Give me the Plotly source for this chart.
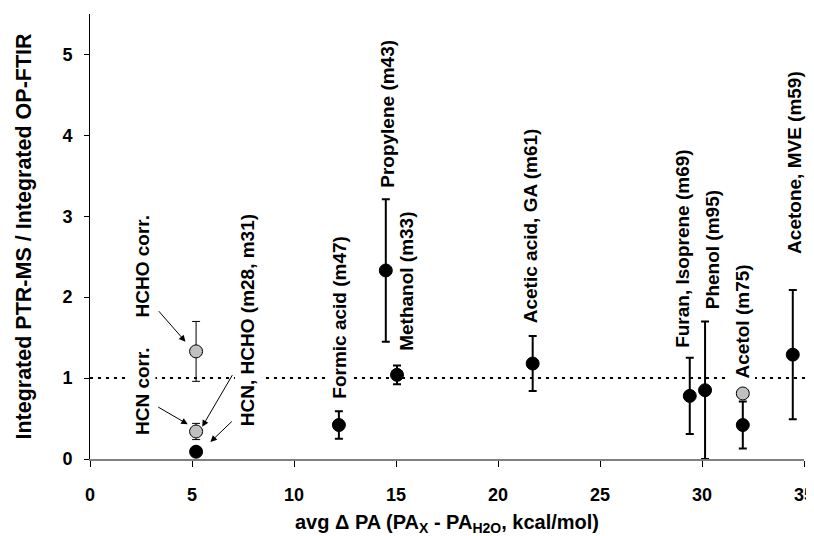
import plotly.graph_objects as go

# ---- data ----
black_x = [5.2, 12.2, 14.5, 15.05, 21.7, 29.4, 30.15, 32.0, 34.45]
black_y = [0.09, 0.42, 2.33, 1.04, 1.18, 0.78, 0.85, 0.42, 1.29]
black_err = [0.0, 0.17, 0.88, 0.115, 0.34, 0.47, 0.85, 0.29, 0.80]

grey_x = [5.2, 5.2, 32.0]
grey_y = [0.34, 1.33, 0.81]
grey_err = [0.10, 0.37, 0.0]

labels = ["HCHO corr.", "HCN corr.", "HCN, HCHO (m28, m31)", "Formic acid (m47)",
          "Propylene (m43)", "Methanol (m33)", "Acetic acid, GA (m61)",
          "Furan, Isoprene (m69)", "Phenol (m95)", "Acetol (m75)", "Acetone, MVE (m59)"]
label_x = [2.55, 2.55, 7.76, 12.22, 14.57, 15.54, 21.63, 29.03, 30.49, 31.96, 34.56]
label_y = [2.38, 0.84, 1.72, 1.75, 4.27, 2.19, 2.88, 2.60, 2.58, 1.70, 3.66]

# arrows: tip (data) and tail offset (px)
arrow_x = [4.68, 4.79, 5.50, 5.90]
arrow_y = [1.45, 0.43, 0.40, 0.21]
arrow_ax = [-28, -31, 31, 23]
arrow_ay = [-32, -18, -53, -22]

x_ticks = [0, 5, 10, 15, 20, 25, 30, 35]
y_ticks = [0, 1, 2, 3, 4, 5]

FONT = "Liberation Sans, Arial, sans-serif"

fig = go.Figure()

fig.add_trace(go.Scatter(
    x=black_x, y=black_y, mode="markers",
    marker=dict(size=13, color="black", line=dict(color="black", width=1)),
    error_y=dict(type="data", array=black_err, visible=True, color="black",
                 thickness=2, width=4),
    showlegend=False, cliponaxis=False))

fig.add_trace(go.Scatter(
    x=grey_x, y=grey_y, mode="markers",
    marker=dict(size=13, color="#c0c0c0", line=dict(color="black", width=1)),
    error_y=dict(type="data", array=grey_err, visible=True, color="black",
                 thickness=1, width=4),
    showlegend=False, cliponaxis=False))

# dotted reference line at y = 1
fig.add_shape(type="line", xref="paper", yref="y", x0=0, x1=1.011, y0=1, y1=1,
              line=dict(color="black", width=2, dash="3px,5px"), layer="below")

for t, lx, ly in zip(labels, label_x, label_y):
    fig.add_annotation(x=lx, y=ly, text=t, textangle=-90, showarrow=False,
                       font=dict(family=FONT, size=19, color="black", weight="bold"),
                       bgcolor="white", borderpad=2)

for tx, ty, ax, ay in zip(arrow_x, arrow_y, arrow_ax, arrow_ay):
    fig.add_annotation(x=tx, y=ty, ax=ax, ay=ay, text="", showarrow=True,
                       arrowhead=2, arrowsize=1.3, arrowwidth=1, arrowcolor="black")

# page body has an 8px margin, so the figure is 8px smaller and margins shifted
fig.update_layout(
    width=806, height=528,
    margin=dict(l=81.5, r=10, t=5.7, b=77, autoexpand=False),
    paper_bgcolor="white", plot_bgcolor="white",
    font=dict(family=FONT, color="black"),
    xaxis=dict(range=[0, 35], tickvals=x_ticks, ticks="outside", ticklen=6,
               tickcolor="black", showline=True, linecolor="#808080", linewidth=2,
               showgrid=False, zeroline=False, automargin=False,
               ticklabelstandoff=12, ticklabeloverflow="allow",
               tickfont=dict(family=FONT, size=18, weight="bold"),
               title=dict(text="avg Δ PA (PA<sub>X</sub> - PA<sub>H2O</sub>, kcal/mol)",
                          font=dict(family=FONT, size=20, weight="bold"), standoff=12)),
    yaxis=dict(range=[0, 5.5], tickvals=y_ticks, ticks="outside", ticklen=5,
               tickcolor="black", showline=True, linecolor="black", linewidth=1,
               showgrid=False, zeroline=False, automargin=False,
               ticklabelstandoff=8, ticklabeloverflow="allow",
               tickfont=dict(family=FONT, size=18, weight="bold"),
               title=dict(text="Integrated PTR-MS / Integrated OP-FTIR",
                          font=dict(family=FONT, size=21.5, weight="bold"), standoff=24)),
)

fig.write_html("out.html")
